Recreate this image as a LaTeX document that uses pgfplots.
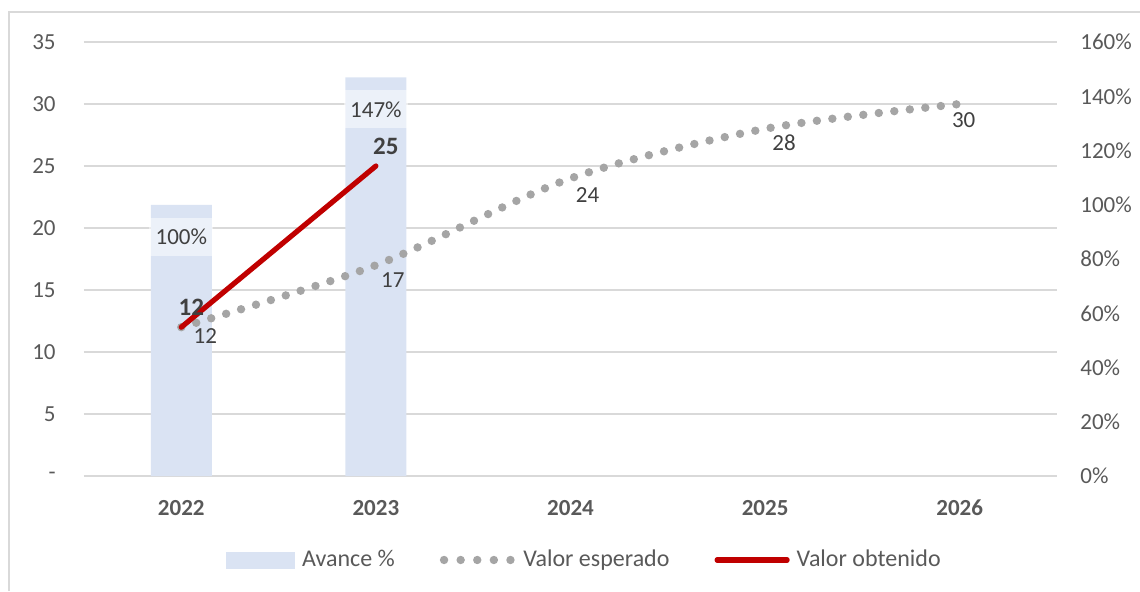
\documentclass[border=0pt]{standalone}
\usepackage{pgfplots}
\pgfplotsset{compat=1.18}
\usepackage{fontspec}
\setmainfont{Carlito}

\definecolor{barblue}{HTML}{DAE3F3}
\definecolor{gridgray}{HTML}{D9D9D9}
\definecolor{dotgray}{HTML}{A5A5A5}
\definecolor{redline}{HTML}{C00000}
\definecolor{ticktext}{HTML}{595959}
\definecolor{labeltext}{HTML}{404040}

% avance (eje derecho, en %)
\pgfplotstableread{
x pct
0 100
1 147
}\avance

% valor esperado, con desplazamiento de etiquetas (pt)
\pgfplotstableread{
x y dx dy
0 12 12 -4.5
1 17 8.5 -7.5
2 24 8.5 -8.5
3 28 9.5 -7
4 30 2 -8
}\esperado

\pgfplotstableread{
x y
0 12
1 25
}\obtenido

\pgfplotsset{
  base/.style={
    scale only axis, width=486.5pt, height=217pt,
    xmin=-0.5, xmax=4.5,
    axis line style={draw=none}, major tick length=0pt,
    clip=false,
    font=\fontsize{11.5}{13}\selectfont,
    /pgf/number format/assume math mode=true,
  },
}

\begin{document}
\begin{tikzpicture}
\useasboundingbox (-42pt,-57.5pt) rectangle (528pt,238pt);
\draw[gridgray, line width=0.8pt] (-37.5pt,-57.5pt) -- (-37.5pt,232pt) -- (528pt,232pt);

% rejilla, eje izquierdo y categorias
\begin{axis}[base,
    ymin=0, ymax=35,
    ytick={0,5,...,35},
    yticklabels={{-\hspace{5pt}},5,10,15,20,25,30,35},
    ymajorgrids, grid style={gridgray, line width=0.7pt},
    xtick={0,1,2,3,4},
    xticklabels={2022,2023,2024,2025,2026},
    xticklabel style={font=\fontsize{11.5}{13}\selectfont\bfseries, text=ticktext, anchor=center, inner sep=0pt, yshift=-16pt},
    yticklabel style={text=ticktext, anchor=east, inner sep=0pt, xshift=-14pt},
  ]
  \addplot[draw=none] coordinates {(0,0)};
\end{axis}

% barras, eje derecho
\begin{axis}[base,
    ymin=0, ymax=160,
    xtick=\empty,
    ytick={0,20,...,160},
    yticklabels={0\%,20\%,40\%,60\%,80\%,100\%,120\%,140\%,160\%},
    ytick pos=right, yticklabel pos=right,
    yticklabel style={text=ticktext, anchor=west, inner sep=0pt, xshift=11.5pt},
  ]
  \addplot[ybar, bar width=30.5pt, fill=barblue, draw=none,
    nodes near coords={\pgfmathprintnumber{\pgfplotspointmeta}\%},
    nodes near coords style={anchor=center, yshift=-16pt, fill=white, fill opacity=0.5,
      text opacity=1, text=labeltext, minimum width=32pt, minimum height=19pt, inner sep=0pt}]
    table[x=x, y=pct] {\avance};
\end{axis}

% lineas
\begin{axis}[base,
    ymin=0, ymax=35,
    xtick=\empty, ytick=\empty,
    legend columns=3,
    legend style={at={(0.517,-0.1935)}, anchor=center, draw=none, fill=none,
      text=ticktext, font=\fontsize{12}{14}\selectfont,
      /tikz/every odd column/.append style={column sep=0pt},
      /tikz/every even column/.append style={column sep=19pt},
      nodes={inner xsep=3.5pt}},
    legend cell align=left,
  ]
  \addlegendimage{legend image code/.code={\fill[barblue] (0pt,-4pt) rectangle (34pt,4pt);}}
  \addlegendentry{Avance \%}

  \addplot[dotgray, line width=4.2pt, line cap=round, dash pattern=on 0pt off 7.8pt,
    smooth, tension=0.5,
    legend image code/.code={\draw[dotgray, line width=4.2pt, line cap=round, dash pattern=on 0pt off 8.3pt] (0pt,0pt) -- (34pt,0pt);}]
    table[x=x, y=y] {\esperado};
  \addlegendentry{Valor esperado}

  \addplot[redline, line width=2.6pt, line cap=round,
    legend image code/.code={\draw[redline, line width=2.6pt, line cap=round] (0pt,0pt) -- (35pt,0pt);}]
    table[x=x, y=y] {\obtenido};
  \addlegendentry{Valor obtenido}

  % etiquetas
  \addplot[draw=none, forget plot, point meta=y,
    visualization depends on={\thisrow{dx}\as\dx},
    visualization depends on={\thisrow{dy}\as\dy},
    nodes near coords,
    nodes near coords style={anchor=center, inner sep=0pt, text=labeltext, xshift=\dx pt, yshift=\dy pt}]
    table[x=x, y=y] {\esperado};
  \addplot[draw=none, forget plot, point meta=y,
    nodes near coords,
    nodes near coords style={anchor=center, inner sep=0pt, text=labeltext, font=\fontsize{12.5}{14}\selectfont\bfseries, xshift=5pt, yshift=10pt}]
    table[x=x, y=y] {\obtenido};
\end{axis}
\end{tikzpicture}
\end{document}
